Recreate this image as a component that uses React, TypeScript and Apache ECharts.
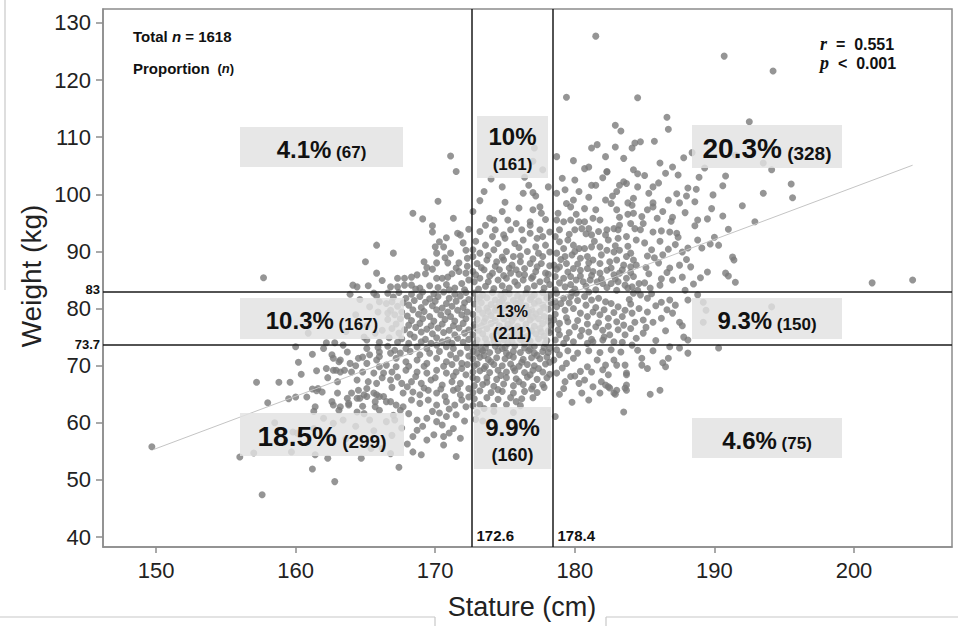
import React, { useEffect, useRef } from "react";
import * as echarts from "echarts";

const xTicks = [150, 160, 170, 180, 190, 200];
const yTicks = [40, 50, 60, 70, 80, 90, 100, 110, 120, 130];
const statureCuts = [172.6, 178.4];
const weightCuts = [83, 73.7];
const fitLine = [[149.8, 55.3], [204.2, 105.1]];
const totalN = 1618;
const rValue = "0.551";
const pValue = "0.001";
const cellPercent = ["4.1%", "10%", "20.3%", "10.3%", "13%", "9.3%", "18.5%", "9.9%", "4.6%"];
const cellCount = [67, 161, 328, 167, 211, 150, 299, 160, 75];

const ptsUpperLeft = [
  [157.7,85.4],[171.1,106.7],[171.5,104.0],[170.2,98.8],[168.4,96.7],[169.1,95.7],[169.8,94.5],[169.8,93.4],[171.6,93.2],[171.8,92.9],
  [165.8,91.1],[167.0,89.7],[170.8,92.4],[170.3,91.7],[170.0,90.8],[170.6,90.8],[172.0,91.5],[172.2,90.2],[172.3,88.8],[171.7,88.0],
  [171.1,89.7],[170.7,88.9],[170.1,89.7],[170.1,88.0],[170.9,88.0],[165.0,88.2],[169.2,88.2],[165.8,86.2],[167.3,85.3],[167.8,85.3],
  [168.3,85.5],[168.7,85.9],[169.3,86.1],[170.1,85.3],[170.5,85.3],[170.9,85.5],[171.2,86.1],[171.7,86.5],[172.2,86.2],[172.4,85.0],
  [164.1,84.1],[164.4,83.8],[165.2,84.0],[166.8,83.8],[167.3,83.8],[167.8,84.1],[168.3,84.1],[168.9,83.6],[169.6,84.0],[170.2,83.7],
  [170.8,84.2],[171.4,83.6],[171.9,84.4],[166.2,84.9],[172.3,87.4],[171.5,87.1],[169.8,86.9],[172.1,83.3],[171.0,83.3],[169.4,87.2],
  [168.6,83.4],[172.4,93.9],[171.3,95.8]
];

const ptsUpperMid = [
  [173.5,100.5],[174.8,101.3],[176.3,100.2],[176.7,101.6],[177.0,100.3],[177.7,104.3],[172.7,97.0],[174.8,97.0],[176.0,97.6],[177.0,97.3],
  [177.6,96.7],[177.5,97.8],[173.9,95.8],[174.2,95.5],[175.2,95.5],[176.8,95.2],[176.8,94.6],[173.2,93.5],[174.3,93.8],[175.4,93.8],
  [176.2,93.8],[177.5,93.8],[174.1,92.6],[174.9,92.9],[176.8,93.2],[177.3,92.3],[177.7,92.6],[172.7,90.3],[173.6,91.1],[174.5,91.4],
  [175.7,91.4],[176.3,92.0],[177.2,90.8],[177.9,91.1],[172.7,89.1],[173.2,89.7],[174.2,90.3],[175.1,90.0],[175.6,89.1],[176.6,90.0],
  [177.4,89.7],[177.7,89.1],[173.0,87.9],[173.7,88.5],[174.4,88.2],[174.9,88.5],[175.5,87.6],[176.1,88.2],[176.8,87.9],[177.6,87.9],
  [172.7,86.5],[173.5,86.8],[174.1,86.2],[174.6,86.8],[175.4,86.2],[175.8,86.8],[176.4,85.9],[177.2,86.5],[177.9,86.2],[172.8,84.7],
  [173.2,85.3],[173.8,84.7],[174.5,85.0],[175.1,85.3],[175.7,84.7],[176.3,85.0],[176.9,85.3],[177.5,84.7],[178.0,85.0],
  [177.1,108.1],[177.0,105.8],[177.2,99.7],[178.1,101.3],
  [173.1,83.4],[173.6,83.9],[174.2,83.5],[174.8,84.0],[175.3,83.6],[175.9,84.1],[176.6,83.5],[177.1,84.0],[177.8,83.6],[178.2,84.2],
  [172.9,85.9],[173.9,85.7],[174.9,85.8],[176.0,86.0],[177.0,85.6],[178.1,86.0],[173.3,87.2],[174.3,87.4],[175.3,87.1],[176.4,87.0],
  [177.3,87.3],[178.2,87.5],[173.8,89.3],[174.8,89.0],[176.1,89.2],[177.0,88.7],[172.9,91.8],[175.0,92.3],[176.0,90.7],[173.6,94.6],
  [175.8,94.9],[177.9,95.6],[175.0,98.6],[173.2,98.9],[176.4,103.0],[174.0,102.7],[178.2,93.4],[178.2,89.9]
];

const ptsUpperRight = [
  [178.7,106.6],[182.2,106.6],[183.5,106.3],[180.7,104.5],[181.0,104.8],[182.3,104.0],[184.2,104.3],[179.1,102.8],[180.0,102.5],[181.2,101.6],
  [181.5,101.6],[180.3,100.5],[183.0,100.5],[183.5,102.2],[183.7,101.9],[178.7,100.2],[179.4,98.4],[179.9,99.0],[179.7,97.8],[180.7,97.5],
  [182.2,99.0],[182.6,98.4],[184.2,99.3],[184.1,98.1],[183.0,97.3],[178.7,95.5],[179.2,95.2],[179.7,95.5],[180.3,95.2],[180.7,95.2],
  [181.3,95.8],[181.8,95.5],[182.3,93.8],[182.8,94.0],[183.2,94.6],[184.0,94.9],[184.3,94.0],[178.9,93.8],[180.0,93.8],[180.5,94.0],
  [181.0,94.0],[181.2,92.9],[182.2,92.9],[182.4,92.0],[183.1,92.3],[183.7,92.6],[184.4,92.0],[178.9,91.7],[179.5,92.0],[179.9,91.1],
  [180.3,90.5],[180.7,90.5],[181.2,90.8],[181.8,90.8],[182.3,90.2],[182.8,89.9],[183.2,90.2],[183.7,89.1],[184.2,88.5],[178.7,89.7],
  [179.3,89.1],[179.8,89.4],[180.4,88.8],[180.9,89.1],[181.3,88.5],[181.8,87.9],[182.5,88.2],[183.0,88.5],[183.5,87.6],[184.0,87.3],
  [184.4,87.6],[178.5,87.6],[178.9,87.3],[179.4,87.9],[179.9,87.0],[180.4,86.7],[180.9,87.0],[181.3,86.5],[181.8,86.2],[182.3,86.7],
  [182.8,85.9],[183.2,86.2],[183.7,85.3],[184.2,85.6],[178.6,85.6],[179.2,85.3],[179.7,85.6],[180.1,85.0],[180.6,84.7],[181.1,85.0],
  [181.6,84.7],[182.0,84.4],[182.6,84.4],[183.1,84.7],[183.6,84.1],[184.1,83.8],[184.6,84.4],
  [190.7,124.2],[194.2,121.6],[184.5,116.9],[186.6,113.5],[192.5,112.7],[182.9,112.1],[183.3,111.1],[186.7,111.4],[184.7,109.2],[184.3,109.0],
  [185.7,109.3],[182.9,108.3],[184.1,108.1],[187.8,106.4],[182.3,103.9],[187.0,104.8],[186.5,103.7],[187.4,103.4],[189.3,104.6],[193.5,105.5],
  [194.1,104.3],[188.9,103.0],[190.8,103.2],[183.2,101.6],[185.6,101.3],[186.0,102.0],[184.5,101.3],[188.1,101.1],[188.7,100.9],[195.5,101.8],
  [182.7,99.7],[187.3,100.1],[193.5,100.2],[195.6,99.4],[183.8,98.5],[185.6,98.5],[185.6,97.8],[187.5,98.5],[188.6,98.7],[192.0,98.0],
  [185.2,97.3],[184.8,96.1],[187.0,96.0],[186.9,95.3],[184.2,96.7],[183.8,96.5],[188.8,95.5],[189.5,95.7],[192.9,95.2],[184.7,93.8],
  [185.6,93.4],[186.2,93.6],[186.8,93.4],[187.3,93.2],[188.6,94.5],[183.1,93.8],[187.4,92.5],[188.8,92.0],[190.0,92.5],[189.1,90.6],
  [189.7,91.3],[190.3,91.1],[188.1,90.6],[187.7,89.9],[191.3,89.0],[191.4,88.5],[186.3,89.4],[185.7,88.9],[189.5,86.4],[190.8,86.2],
  [191.5,84.6],[201.3,84.5],[204.2,85.0],[188.3,87.3],[187.7,85.5],[186.8,87.1],[191.0,85.7],[187.9,83.2],[185.4,83.6],[186.1,84.1],
  [187.0,85.0],[181.2,108.1],[184.5,103.6],
  [185.0,91.5],[185.5,90.3],[186.1,91.8],[186.7,90.4],[187.2,91.2],[185.2,89.2],[186.0,88.0],[186.6,86.3],[187.5,87.6],[188.0,88.6],
  [185.1,87.2],[185.3,86.1],[186.2,85.2],[188.5,84.3],[189.0,85.4],[185.0,84.5],[184.9,94.9],[185.9,95.8],[186.3,97.0],[187.9,96.8],
  [189.8,97.5],[190.6,96.2],[191.0,93.9],[188.0,99.7],[189.9,99.9],[190.6,101.5],[186.7,99.0],[185.3,100.2],[185.0,103.3],[186.1,105.5],
  [188.4,107.3],[191.5,106.9],
  [178.6,83.3],[179.3,83.8],[180.0,83.4],[180.8,83.9],[181.5,83.3],[182.3,83.7],[183.0,83.2],[183.8,83.6],[184.5,83.2],[178.9,84.5],
  [179.7,84.2],[180.4,85.7],[181.2,85.8],[181.9,85.2],[182.9,85.2],[183.4,86.8],[184.0,86.3],[179.5,86.4],[178.7,86.9],[180.2,87.8],
  [181.0,88.0],[181.9,89.4],[182.6,87.1],[179.0,88.6],[180.0,90.0],[181.4,91.8],[183.8,90.9],[179.2,90.5],[178.6,92.6],[180.8,93.1],
  [182.9,91.0],[184.0,89.7],[179.6,93.0],[181.7,93.5],[178.8,96.7],[180.1,96.5],[181.5,97.3],[183.2,96.0],[179.3,100.8],[181.0,99.5],
  [182.0,102.9],[179.9,105.9],[181.6,108.7],[179.4,117.0],[181.5,127.7]
];

const ptsMidLeft = [
  [167.4,82.8],[168.3,82.5],[169.1,82.9],[169.9,82.6],[170.6,82.9],[171.4,82.5],[172.2,82.8],
  [167.0,82.0],[167.9,81.8],[168.9,82.1],[169.6,81.7],[170.2,82.1],[171.0,81.8],[171.8,82.2],[172.4,81.6],
  [166.9,81.2],[167.7,81.0],[168.5,81.4],[169.3,81.1],[170.0,81.3],[170.8,80.9],[171.5,81.3],[172.1,81.0],
  [167.3,80.4],[168.1,80.6],[169.0,80.2],[169.8,80.5],[170.5,80.1],[171.2,80.4],[172.0,80.2],
  [166.8,79.7],[167.6,79.4],[168.4,79.8],[169.2,79.5],[170.1,79.8],[170.9,79.4],[171.6,79.7],[172.3,79.4],
  [167.1,78.9],[168.0,78.7],[168.8,79.0],[169.6,78.6],[170.4,78.9],[171.1,78.6],[171.9,78.9],
  [166.6,78.1],[167.5,78.2],[168.3,77.9],[169.1,78.2],[169.9,77.8],[170.7,78.1],[171.4,77.8],[172.2,78.2],
  [167.2,77.3],[168.1,77.1],[168.9,77.4],[169.7,77.0],[170.5,77.3],[171.3,77.0],[172.0,77.4],
  [166.9,76.5],[167.8,76.3],[168.6,76.7],[169.4,76.4],[170.2,76.6],[171.0,76.2],[171.7,76.6],[172.4,76.3],
  [167.4,75.7],[168.2,75.5],[169.0,75.9],[169.8,75.6],[170.6,75.8],[171.4,75.4],[172.1,75.7],
  [166.7,74.9],[167.6,74.7],[168.5,75.0],[169.3,74.6],[170.1,74.9],[170.9,74.5],[171.6,74.8],[172.4,74.6],
  [167.3,74.1],[168.1,73.9],[169.0,74.2],[169.7,73.9],[170.5,74.2],[171.2,73.9],[172.0,74.1],
  [165.8,82.2],[166.6,82.7],[165.6,82.7],[166.0,81.2],[166.5,80.9],[166.6,79.2],[166.2,76.2],[165.1,74.5],[165.7,75.7],[164.3,78.9],
  [165.1,77.0],[163.6,76.0],[164.9,75.0],[160.9,75.7],[162.2,74.0],[162.8,74.0],[166.0,74.1],[165.3,80.3],[164.6,81.6],[163.9,82.5],
  [165.9,79.4]
];

const ptsCenter = [
  [172.8,82.7],[173.4,82.4],[174.1,82.8],[174.7,82.3],[175.3,82.6],[175.9,82.2],[176.5,82.7],[177.1,82.4],[177.7,82.8],[178.2,82.3],
  [173.0,81.7],[173.7,81.9],[174.3,81.5],[174.9,81.8],[175.6,81.4],[176.2,81.9],[176.8,81.6],[177.4,81.3],[178.0,81.8],
  [172.8,80.8],[173.3,81.0],[174.0,80.7],[174.6,81.1],[175.2,80.6],[175.8,80.9],[176.5,80.5],[177.1,80.9],[177.7,80.6],[178.3,81.0],
  [173.1,79.9],[173.7,80.1],[174.3,79.7],[175.0,80.0],[175.6,79.6],[176.2,80.1],[176.9,79.8],[177.5,79.5],[178.1,79.9],
  [172.7,79.0],[173.4,79.2],[174.0,78.8],[174.7,79.1],[175.3,78.7],[175.9,79.2],[176.6,78.9],[177.2,79.1],[177.8,78.6],
  [173.0,78.1],[173.6,78.3],[174.3,77.9],[174.9,78.2],[175.5,77.8],[176.2,78.3],[176.8,78.0],[177.4,78.2],[178.1,77.8],
  [172.8,77.2],[173.3,77.0],[174.0,77.4],[174.6,77.0],[175.2,77.3],[175.9,76.9],[176.5,77.3],[177.1,76.9],[177.7,77.4],[178.3,77.1],
  [173.1,76.2],[173.7,76.5],[174.4,76.1],[175.0,76.4],[175.6,76.0],[176.3,76.4],[176.9,76.1],[177.5,76.5],[178.1,76.1],
  [172.7,75.4],[173.4,75.6],[174.1,75.2],[174.7,75.5],[175.3,75.1],[175.9,75.5],[176.6,75.2],[177.2,75.6],[177.8,75.2],
  [173.0,74.5],[173.6,74.7],[174.2,74.3],[174.9,74.6],[175.5,74.2],[176.1,74.6],[176.8,74.3],[177.4,74.7],[178.0,74.4],
  [172.9,73.9],[174.5,73.9],[176.4,73.8],[177.9,73.9],[175.2,73.9],[173.7,73.9],
  [173.2,82.0],[175.0,82.9],[176.9,82.0],[178.0,82.0],[174.4,80.2],[176.1,81.2],[177.8,80.2],[173.8,79.5],[175.7,78.5],[177.0,78.5],
  [173.5,77.7],[175.4,76.6],[177.6,75.9],[174.2,74.9],[176.3,75.0],[172.9,76.7],[178.2,75.8],[174.8,81.3],[176.7,79.4],[178.2,78.4]
];

const ptsMidRight = [
  [178.7,82.7],[179.2,81.8],[179.7,82.1],[180.1,82.7],[180.7,82.1],[181.2,81.5],[181.7,81.8],[182.2,81.2],[182.6,80.9],[183.1,80.3],
  [183.6,79.7],[184.1,79.2],[178.7,80.3],[179.3,79.7],[179.9,80.0],[180.4,79.2],[180.9,78.6],[181.3,79.4],[181.8,78.9],[182.4,78.3],
  [183.0,77.7],[183.5,77.1],[178.5,78.0],[178.9,77.4],[179.5,77.7],[180.0,76.8],[180.5,76.2],[181.0,75.9],[181.5,76.8],[182.0,76.2],
  [182.5,75.4],[178.9,75.4],[179.4,74.8],[179.9,74.2],[180.9,73.9],[181.3,74.2],
  [188.8,82.4],[189.2,81.1],[189.4,79.7],[189.2,77.6],[194.1,80.3],[188.1,81.5],[187.2,80.6],[187.0,79.2],[187.5,77.6],[187.7,77.0],
  [187.8,75.0],[188.1,74.5],[186.2,78.3],[185.6,77.6],[184.9,78.0],[184.3,77.6],[184.9,75.7],[186.8,81.5],[186.2,81.1],[185.2,81.8],
  [184.7,82.4],[184.2,82.7],[183.6,75.4],[183.4,74.1],[182.0,74.5],
  [178.6,81.2],[179.0,80.9],[179.6,81.0],[180.2,81.4],[180.8,80.6],[181.5,80.2],[182.1,79.8],[182.8,79.3],[183.4,78.6],[184.0,80.8],
  [184.6,80.0],[185.2,79.4],[185.8,80.5],[178.6,79.0],[179.4,78.4],[180.2,77.9],[180.9,77.3],[181.7,77.5],[182.4,76.9],[183.1,76.3],
  [184.0,76.5],[178.8,76.3],[179.6,75.8],[180.4,75.2],[181.2,74.6],[182.1,75.0],[182.8,74.2],[178.6,74.5],[179.2,73.9],[183.9,81.6],
  [185.5,82.6],[186.6,79.8],[185.1,76.7],[186.5,76.1],[185.8,74.4],[184.4,74.8],[179.8,82.8],[181.0,82.9]
];

const ptsLowerLeft = [
  [149.7,55.8],[157.6,47.4],[156.0,54.0],[157.0,54.7],[159.7,54.9],[161.4,54.4],[161.2,51.9],[158.5,60.0],[160.1,58.2],[158.0,63.5],
  [159.5,64.2],[160.0,64.5],[160.8,64.5],[161.2,65.9],[161.5,65.6],[161.4,62.8],[157.2,67.1],[158.8,67.1],[159.6,67.1],[160.0,73.3],
  [161.2,72.0],[161.5,69.1],[162.6,71.9],[163.1,70.7],[162.7,69.2],[163.2,68.9],[164.0,68.9],[163.9,70.4],[162.6,63.7],[163.1,62.2],
  [161.3,62.0],[163.8,63.1],[162.0,60.8],[162.7,59.9],[163.4,60.5],[165.3,60.5],[166.5,60.2],[167.1,60.5],[159.8,58.4],[161.3,59.0],
  [162.3,53.8],[164.7,53.8],[166.8,54.6],[165.4,55.5],[166.2,55.5],[162.8,49.7],[167.4,52.2],[168.4,54.9],[169.0,54.4],[170.6,56.1],
  [171.5,54.1],[168.4,57.6],[169.4,57.0],[169.9,57.9],[170.6,57.6],[168.7,58.7],[170.5,59.6],[171.8,57.3],[171.3,59.0],[168.7,60.5],
  [169.4,60.8],[170.1,60.2],[170.8,61.1],[171.5,61.4],[170.3,61.7],[167.5,62.2],[167.2,63.1],[167.7,62.8],[166.0,62.2],[165.7,63.7],
  [166.8,63.7],[164.0,65.2],[164.5,65.7],[164.6,64.3],[165.1,64.6],[165.8,64.9],[166.3,64.6],[164.4,67.5],[165.2,67.2],[165.8,66.9],
  [166.8,67.5],[167.6,66.9],[168.3,67.2],[169.0,66.9],[169.7,67.5],[170.5,66.6],[171.2,67.2],[171.8,66.9],[168.4,65.4],[168.9,64.9],
  [169.5,65.7],[170.1,65.2],[170.7,64.6],[171.3,65.7],[171.8,64.9],[167.7,65.2],[168.9,63.4],[169.5,64.0],[170.1,63.1],[170.8,63.7],
  [171.4,63.1],[171.9,64.0],[168.3,64.0],[164.8,68.9],[165.6,68.7],[166.3,68.7],[166.9,68.9],[167.2,69.8],[167.9,69.2],[168.7,68.9],
  [169.4,68.7],[170.1,69.2],[170.8,68.7],[171.5,68.9],[171.9,69.5],[165.1,70.4],[165.8,71.0],[166.5,70.1],[167.2,71.3],[167.9,70.7],
  [168.7,71.0],[169.4,70.4],[170.1,71.3],[170.8,70.7],[171.5,71.3],[171.9,70.4],[164.5,71.3],[165.3,71.9],[166.0,71.6],[166.8,72.2],
  [167.5,72.2],[168.2,72.5],[168.9,71.9],[169.6,72.2],[170.3,72.5],[171.1,71.9],[171.8,72.2],[167.1,72.7],[167.9,73.0],[168.7,73.3],
  [169.4,73.0],[170.1,73.6],[170.8,73.3],[171.3,73.0],[163.7,72.4],[163.4,73.6],[164.8,71.5],[166.0,72.4],
  [162.2,69.5],[162.9,69.2],[163.5,69.2],[162.7,71.3],[163.2,71.0],[161.6,66.0],[161.9,65.4],[163.7,64.3],[164.4,64.3],[164.9,64.9],
  [162.7,63.1],[163.2,62.8],[163.8,63.4],[164.4,61.9],[164.9,61.6],[165.6,65.2],[166.0,64.6],[166.5,63.7],[165.7,62.8],
  [165.9,73.2],[166.6,73.4],[172.3,73.2],[172.4,71.7],[172.3,70.2],[172.2,68.4],[172.4,66.0],[172.2,62.8],[172.1,60.3],[171.0,62.4],
  [169.8,62.0],[168.1,61.6],[167.0,61.3],[169.1,59.4],[167.6,59.1],[166.9,57.8],[165.6,58.6],[164.3,59.4],[163.6,57.2],[168.0,56.3],
  [171.0,58.2],[167.3,68.0],[168.6,68.1],[170.0,67.9],[171.3,68.2],[166.2,67.9],[165.1,66.0],[166.9,66.2],[168.0,66.3],[169.2,66.1],
  [170.4,65.9],[171.6,66.0],[172.4,64.5],[169.2,69.9],[170.6,69.9],[171.2,70.2],[168.1,69.9],[166.0,69.8],[164.3,70.0],[163.0,67.2],
  [162.3,67.9],[164.8,62.9],[163.0,65.2],[160.4,68.5],[160.2,70.6],[162.0,73.0],[165.1,73.0]
];

const ptsLowerMid = [
  [172.9,73.3],[173.6,73.1],[174.3,73.4],[175.0,73.2],[175.7,73.5],[176.4,73.1],[177.1,73.4],[177.8,73.2],
  [172.7,72.5],[173.0,72.2],[173.4,72.6],[173.9,72.3],[174.5,72.6],[175.1,72.2],[175.6,72.5],[176.1,72.3],[176.7,72.6],[177.1,72.2],
  [177.7,72.5],[178.1,72.3],
  [172.7,71.2],[173.2,71.5],[173.8,71.1],[174.4,71.4],[175.0,71.2],[175.6,71.5],[176.3,71.1],[176.9,71.4],[177.5,71.2],[178.0,71.5],
  [172.8,70.0],[173.0,70.3],[173.6,69.9],[174.2,70.2],[174.8,70.0],[175.4,70.3],[176.0,69.9],[176.6,70.2],[177.1,70.0],[177.9,70.3],
  [172.7,68.9],[173.2,69.1],[173.9,68.8],[174.5,69.2],[175.1,68.9],[175.7,69.1],[176.4,68.8],[177.0,69.2],[177.7,68.9],
  [172.7,67.9],[173.0,67.6],[173.7,67.9],[174.4,67.6],[175.1,67.9],[175.8,67.7],[176.6,68.0],[177.3,67.6],[178.0,67.9],
  [172.8,66.5],[173.4,66.7],[174.2,66.4],[174.9,66.8],[175.6,66.5],[176.3,66.7],[177.0,66.4],[177.7,66.7],
  [172.7,65.3],[173.2,65.6],[174.0,65.3],[174.8,65.5],[175.6,65.2],[176.4,65.5],[177.3,65.3],
  [172.8,64.2],[173.7,64.4],[174.5,64.1],[175.4,64.4],[176.2,64.2],[177.0,64.4],
  [172.7,63.0],[173.2,63.2],[174.2,62.9],[175.1,63.2],[176.1,63.0],
  [173.0,61.8],[174.2,62.0],[175.6,61.8],[172.9,60.6],[173.4,60.3],
  [173.3,72.9],[174.8,73.0],[176.8,72.9],[178.2,73.0],[173.5,71.8],[175.3,71.8],[177.3,71.8],[174.0,70.7],[176.2,70.6],[178.2,70.6],
  [173.5,69.5],[175.6,69.6],[177.4,69.5],[174.7,68.3],[176.8,68.4],[178.2,68.5],[173.7,67.1],[176.0,67.2],[177.8,66.2],[174.5,65.8],
  [176.9,65.9],[175.8,63.7],[173.5,62.5]
];

const ptsLowerRight = [
  [178.5,71.0],[178.9,71.9],[179.4,70.4],[179.9,71.3],[180.4,69.0],[180.9,69.8],[181.6,71.0],[182.2,70.1],[182.8,71.0],[183.6,70.1],
  [183.7,68.7],[178.7,68.7],[179.3,67.2],[179.7,68.1],[180.3,66.9],[180.7,67.5],[181.3,66.3],[181.9,67.2],[182.4,66.3],[183.0,65.7],
  [183.7,65.7],[179.2,66.0],[180.5,65.2],[181.8,65.2],[182.8,65.2],[178.6,61.1],[183.5,61.9],
  [188.1,72.2],[187.5,73.1],[186.8,73.3],[190.3,73.1],[186.7,71.3],[186.3,70.5],[186.5,69.8],[186.1,65.7],[185.4,65.0],[182.9,65.0],
  [184.8,71.3],[184.8,70.1],[183.0,70.1],[182.2,66.6],[182.5,66.1],[183.6,66.1],[183.7,66.6],[182.4,68.4],[183.7,68.4],[184.5,72.7],
  [184.1,73.6],
  [178.7,72.8],[179.5,72.6],[180.2,72.2],[181.0,72.6],[181.8,72.3],[182.6,72.8],[183.3,72.4],[179.1,69.6],[180.0,68.2],[181.2,68.9],
  [182.0,69.3],[178.9,65.0],[179.8,63.6],[181.0,64.0],[185.6,72.6],[185.2,69.5]
];

const FONT = "'Liberation Sans', Arial, sans-serif";

export default function App() {
  const ref = useRef<HTMLDivElement>(null);

  useEffect(() => {
    if (!ref.current) return;
    const chart = echarts.init(ref.current, null, { renderer: "svg" });
    const points = [
      ...ptsUpperLeft, ...ptsUpperMid, ...ptsUpperRight,
      ...ptsMidLeft, ...ptsCenter, ...ptsMidRight,
      ...ptsLowerLeft, ...ptsLowerMid, ...ptsLowerRight,
    ];
    const axisColor = "#8c8c8c";

    chart.setOption({
      animation: false,
      backgroundColor: "#ffffff",
      grid: {
        left: 103, right: 6, top: 9, bottom: 79,
        show: true, borderColor: axisColor, borderWidth: 1.5,
        containLabel: false, outerBoundsMode: "none",
      },
      xAxis: {
        type: "value", min: 146.2, max: 207.02,
        axisLine: { show: true, onZero: false, lineStyle: { color: axisColor, width: 1.5 } },
        axisTick: { show: true, length: 6, customValues: xTicks, lineStyle: { color: axisColor, width: 1.5 } },
        axisLabel: { customValues: xTicks, fontSize: 22, color: "#222", fontFamily: FONT, margin: 12 },
        splitLine: { show: false },
      },
      yAxis: {
        type: "value", min: 38.25, max: 132.45,
        axisLine: { show: true, onZero: false, lineStyle: { color: axisColor, width: 1.5 } },
        axisTick: { show: true, length: 7, customValues: yTicks, lineStyle: { color: axisColor, width: 1.5 } },
        axisLabel: { customValues: yTicks, fontSize: 22, color: "#222", fontFamily: FONT, margin: 12 },
        splitLine: { show: false },
      },
      series: [
        {
          type: "scatter",
          data: points,
          symbol: "circle",
          symbolSize: 7,
          itemStyle: { color: "#7a7a7a" },
          z: 2,
          silent: true,
        },
        {
          type: "line",
          data: fitLine,
          symbol: "none",
          lineStyle: { color: "#c4c4c4", width: 1 },
          z: 3,
          silent: true,
          markLine: {
            silent: true,
            symbol: ["none", "none"],
            label: { show: false },
            lineStyle: { color: "#1a1a1a", width: 1.5, type: "solid" },
            data: [
              ...statureCuts.map((v) => ({ xAxis: v })),
              ...weightCuts.map((v) => ({ yAxis: v })),
            ],
          },
        },
      ],
    });

    const px = (v: number) => chart.convertToPixel({ xAxisIndex: 0 } as any, v) as number;
    const py = (v: number) => chart.convertToPixel({ yAxisIndex: 0 } as any, v) as number;

    const boxes = [
      { x: 240, y: 127, w: 163, h: 40, a: 24, b: 17, two: false },
      { x: 477, y: 116, w: 71, h: 62, a: 24, b: 17, two: true, lh: 25 },
      { x: 692, y: 125, w: 150, h: 43, a: 28, b: 19, two: false },
      { x: 240, y: 298, w: 164, h: 41, a: 24, b: 17, two: false },
      { x: 476, y: 293, w: 72, h: 51, a: 16, b: 17, two: true, lh: 22 },
      { x: 692, y: 298, w: 150, h: 41, a: 24, b: 17, two: false },
      { x: 240, y: 413, w: 164, h: 43, a: 28, b: 19, two: false },
      { x: 474, y: 407, w: 77, h: 62, a: 24, b: 18, two: true, lh: 25 },
      { x: 692, y: 418, w: 150, h: 40, a: 24, b: 17, two: false },
    ];

    const elements: any[] = [];
    boxes.forEach((bx, i) => {
      elements.push({
        type: "rect", z: 100, silent: true,
        shape: { x: bx.x, y: bx.y, width: bx.w, height: bx.h },
        style: { fill: "rgba(226,226,226,0.82)" },
      });
      const text = bx.two
        ? `{a|${cellPercent[i]}}\n{b|(${cellCount[i]})}`
        : `{a|${cellPercent[i]}}{b| (${cellCount[i]})}`;
      elements.push({
        type: "text", z: 101, silent: true,
        x: bx.x + bx.w / 2, y: bx.y + bx.h / 2 + 1,
        style: {
          text,
          align: "center", verticalAlign: "middle",
          textAlign: "center", textVerticalAlign: "middle",
          rich: {
            a: { fontSize: bx.a, fontWeight: "bold", fontFamily: FONT, fill: "#111", lineHeight: bx.two ? bx.lh : bx.a + 2, align: "center", verticalAlign: "bottom" },
            b: { fontSize: bx.b, fontWeight: "bold", fontFamily: FONT, fill: "#111", lineHeight: bx.two ? bx.lh : bx.a + 2, align: "center", verticalAlign: "bottom" },
          },
        },
      });
    });

    const smallBold = { fontSize: 13, fontWeight: "bold", fontFamily: FONT, fill: "#111" };
    const cutLabels = [
      { text: String(weightCuts[0]), x: 100, y: py(weightCuts[0]) - 2, align: "right", size: 13 },
      { text: String(weightCuts[1]), x: 100, y: py(weightCuts[1]), align: "right", size: 13 },
      { text: String(statureCuts[0]), x: px(statureCuts[0]) + 5, y: 535, align: "left", size: 15 },
      { text: String(statureCuts[1]), x: px(statureCuts[1]) + 5, y: 535, align: "left", size: 15 },
    ];
    cutLabels.forEach((c) => {
      elements.push({
        type: "text", z: 101, silent: true, x: c.x, y: c.y,
        style: {
          text: c.text, ...smallBold, fontSize: c.size,
          align: c.align, verticalAlign: "middle", textAlign: c.align, textVerticalAlign: "middle",
        },
      });
    });

    const rich = {
      b: { fontSize: 15, fontWeight: "bold", fontFamily: FONT, fill: "#111" },
      i: { fontSize: 15, fontWeight: "bold", fontStyle: "italic", fontFamily: FONT, fill: "#111" },
      s: { fontSize: 13, fontWeight: "bold", fontFamily: FONT, fill: "#111" },
      si: { fontSize: 13, fontWeight: "bold", fontStyle: "italic", fontFamily: FONT, fill: "#111" },
      ri: { fontSize: 18, fontWeight: "bold", fontStyle: "italic", fontFamily: "'Liberation Serif', serif", fill: "#111" },
      rb: { fontSize: 16, fontWeight: "bold", fontFamily: FONT, fill: "#111" },
    };
    const notes = [
      { text: `{b|Total }{i|n}{b| = ${totalN}}`, x: 133, y: 36 },
      { text: `{b|Proportion }{s| (}{si|n}{s|)}`, x: 133, y: 68 },
      { text: `{ri|r}{rb|  =  ${rValue}}`, x: 820, y: 44 },
      { text: `{ri|p}{rb|  <  ${pValue}}`, x: 820, y: 63 },
    ];
    notes.forEach((n) => {
      elements.push({
        type: "text", z: 101, silent: true, x: n.x, y: n.y,
        style: { text: n.text, rich, align: "left", verticalAlign: "middle", textAlign: "left", textVerticalAlign: "middle" },
      });
    });

    elements.push({
      type: "text", z: 101, silent: true, x: 522, y: 607,
      style: {
        text: "Stature (cm)", fontSize: 27, fontFamily: FONT, fill: "#222",
        align: "center", verticalAlign: "middle", textAlign: "center", textVerticalAlign: "middle",
      },
    });
    elements.push({
      type: "text", z: 101, silent: true, x: 31, y: 276, rotation: Math.PI / 2,
      style: {
        text: "Weight (kg)", fontSize: 28, fontFamily: FONT, fill: "#222",
        align: "center", verticalAlign: "middle", textAlign: "center", textVerticalAlign: "middle",
      },
    });

    const frame = "#c8c8c8";
    [
      [5, 0, 5, 290],
      [0, 617, 435, 617],
      [435, 617, 435, 626],
      [606, 617, 958, 617],
      [606, 617, 606, 626],
    ].forEach(([x1, y1, x2, y2]) => {
      elements.push({
        type: "line", z: 1, silent: true,
        shape: { x1, y1, x2, y2 },
        style: { stroke: frame, lineWidth: 1.2 },
      });
    });

    chart.setOption({ graphic: { elements } });

    return () => chart.dispose();
  }, []);

  return (
    <div
      ref={ref}
      style={{ position: "fixed", left: 0, top: 0, width: 958, height: 626, background: "#fff" }}
    />
  );
}
